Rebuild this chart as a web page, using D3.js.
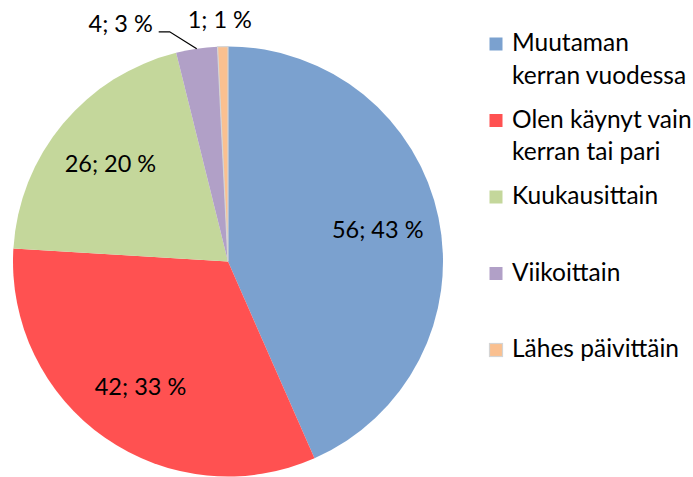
<!DOCTYPE html>
<html><head><meta charset="utf-8">
<script src="https://cdn.jsdelivr.net/npm/d3@7"></script>
<style>body{margin:0;background:#fff}svg{display:block}text{font-family:Lato,"Open Sans",sans-serif;fill:#000}</style>
</head><body><div id="chart"></div>
<script>
const categories = ["Muutaman kerran vuodessa","Olen käynyt vain kerran tai pari","Kuukausittain","Viikoittain","Lähes päivittäin"];
const legendLines = [["Muutaman","kerran vuodessa"],["Olen käynyt vain","kerran tai pari"],["Kuukausittain"],["Viikoittain"],["Lähes päivittäin"]];
const values = [56,42,26,4,1];
const percents = [43,33,20,3,1];
const colors = ["#7BA1CF","#FF5151","#C4D79B","#B1A0C7","#FAC090"];
const strokes = ["none","none","none","none","#D4D4D4"];

const W=693,H=477, cx=228, cy=261.5, R=215;
const svg=d3.select("#chart").append("svg").attr("width",W).attr("height",H);
const g=svg.append("g").attr("transform",`translate(${cx},${cy})`);
const pie=d3.pie().sort(null).value(d=>d)(values);
const arc=d3.arc().innerRadius(0).outerRadius(R);
g.selectAll("path.s").data(pie).join("path").attr("class","s")
 .attr("d",arc).attr("fill",(d,i)=>colors[i])
 .attr("stroke",(d,i)=>strokes[i]).attr("stroke-width",1.2);

const labelArc=d3.arc().innerRadius(153).outerRadius(153);
const fs=23.5;
pie.forEach((d,i)=>{
  const txt=`${values[i]}; ${percents[i]} %`;
  if(i<3){
    const [x,y]=labelArc.centroid(d);
    g.append("text").attr("x",x).attr("y",y).attr("text-anchor","middle").attr("dy","0.35em").style("font-size",fs+"px").text(txt);
  }
});
const mid=d=>(d.startAngle+d.endAngle)/2;
const edge=(a,r)=>[r*Math.sin(a),-r*Math.cos(a)];
{
 const d=pie[3]; const [ex,ey]=edge(mid(d),R);
 const p2=[ex-27,ey-17], p3=[p2[0]-11,p2[1]];
 g.append("path").attr("d",d3.line()([[ex,ey],p2,p3])).attr("fill","none").attr("stroke","#000").attr("stroke-width",1.3);
 g.append("text").attr("x",p3[0]-38).attr("y",p3[1]-8).attr("text-anchor","middle").attr("dy","0.35em").style("font-size",fs+"px").text(`${values[3]}; ${percents[3]} %`);
}
{
 const d=pie[4]; const [ex,ey]=edge(mid(d),R);
 g.append("text").attr("x",ex-3).attr("y",ey-27).attr("text-anchor","middle").attr("dy","0.35em").style("font-size",fs+"px").text(`${values[4]}; ${percents[4]} %`);
}

const leg=svg.append("g");
const y0=51, step=76.5, lh=32.5;
legendLines.forEach((lines,i)=>{
  const by=y0+i*step;
  leg.append("rect").attr("x",489.5).attr("y",by-13.5).attr("width",13).attr("height",13)
    .attr("fill",colors[i]).attr("stroke",strokes[i]==="none"?"none":strokes[i]).attr("stroke-width",1.2);
  lines.forEach((t,j)=>{
    leg.append("text").attr("x",512).attr("y",by+j*lh).style("font-size","24.5px").text(t);
  });
});
</script></body></html>
